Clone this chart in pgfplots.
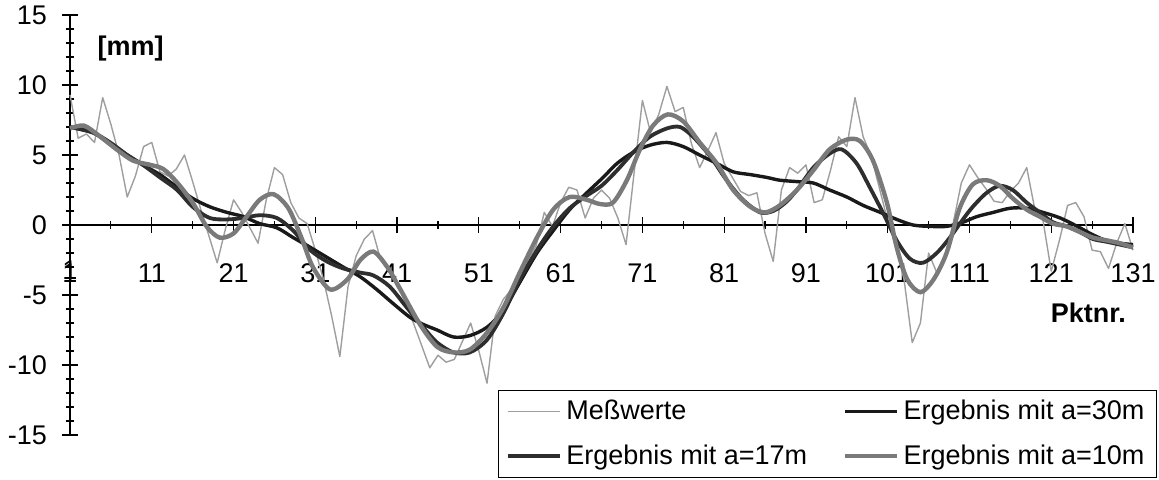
\documentclass[border=0pt]{standalone}
\usepackage{fontspec}
\setmainfont{Liberation Sans}
\usepackage{pgfplots}
\pgfplotsset{compat=1.18}
\definecolor{meas}{gray}{0.62}
\definecolor{cthirty}{gray}{0.10}
\definecolor{cseventeen}{gray}{0.18}
\definecolor{cten}{gray}{0.48}
\begin{document}
\begin{tikzpicture}
\path[use as bounding box] (-35pt,-22pt) rectangle (544.5pt,217.5pt);
\begin{axis}[
  at={(0pt,0pt)}, anchor=south west,
  scale only axis, width=531.5pt, height=210pt,
  xmin=1, xmax=131, ymin=-15, ymax=15,
  axis x line=middle, axis y line=left,
  hide obscured x ticks=false,
  axis line style={-, black, line width=0.6pt},
  xtick={1,11,...,131}, minor x tick num=1,
  ytick={-15,-10,...,15}, minor y tick num=4,
  tick align=center,
  major tick length=8pt, minor tick length=4pt,
  tick style={black, line width=0.6pt},
  /pgf/number format/assume math mode=true,
  ticklabel style={font=\fontsize{13.5}{15}\selectfont},
  xticklabel style={anchor=north, yshift=-12pt},
  yticklabel style={anchor=east, xshift=-4pt},
  clip=false,
  legend columns=2,
  legend cell align=left,
  legend image code/.code={\draw[#1] (0pt,0pt) -- (26pt,0pt);},
  legend style={at={(axis description cs:1.0226,-0.102)}, anchor=south east,
    draw=black, line width=0.6pt, font=\fontsize{13.5}{15}\selectfont,
    inner xsep=4pt, inner ysep=3pt, row sep=7pt,
    /tikz/every even column/.append style={column sep=16pt}},
]
\addplot[meas, line width=0.7pt, line join=round] coordinates {
(1,9.3)(2,6.2)(3,6.5)(4,5.9)(5,9.1)(6,7.2)(7,5.0)(8,2.0)(9,3.5)(10,5.6)
(11,5.9)(12,3.8)(13,3.5)(14,4.0)(15,5.0)(16,3.1)(17,1.1)(18,-0.8)(19,-2.7)(20,-0.3)
(21,1.8)(22,0.9)(23,-0.2)(24,-1.3)(25,1.8)(26,4.1)(27,3.6)(28,1.6)(29,0.5)(30,0.1)
(31,-1.8)(32,-3.9)(33,-6.5)(34,-9.4)(35,-4.4)(36,-2.2)(37,-1.0)(38,-0.4)(39,-2.5)(40,-3.2)
(41,-4.2)(42,-5.5)(43,-7.0)(44,-8.6)(45,-10.2)(46,-9.3)(47,-9.8)(48,-9.6)(49,-8.3)(50,-7.0)
(51,-9.0)(52,-11.3)(53,-6.5)(54,-5.3)(55,-4.6)(56,-3.6)(57,-2.5)(58,-1.5)(59,0.9)(60,-0.1)
(61,1.6)(62,2.7)(63,2.5)(64,0.5)(65,1.9)(66,2.5)(67,1.9)(68,0.5)(69,-1.4)(70,3.8)
(71,8.9)(72,6.6)(73,7.9)(74,9.9)(75,8.1)(76,8.4)(77,5.8)(78,4.1)(79,5.3)(80,6.6)
(81,4.4)(82,3.4)(83,2.4)(84,2.1)(85,2.3)(86,-0.6)(87,-2.6)(88,2.5)(89,4.1)(90,3.7)
(91,4.3)(92,1.6)(93,1.8)(94,3.9)(95,6.3)(96,5.6)(97,9.1)(98,6.3)(99,4.9)(100,2.6)
(101,0.3)(102,-1.6)(103,-3.9)(104,-8.4)(105,-7.0)(106,-2.0)(107,-3.4)(108,-2.2)(109,0.1)(110,3.0)
(111,4.3)(112,3.4)(113,2.6)(114,1.7)(115,1.6)(116,2.4)(117,3.0)(118,4.1)(119,1.1)(120,0.3)
(121,-3.3)(122,-1.1)(123,1.4)(124,1.6)(125,0.6)(126,-1.8)(127,-1.9)(128,-3.1)(129,-1.3)(130,0.1)
(131,-1.8)};
\addlegendentry{Meßwerte}
\addplot[cthirty, line width=1.7pt, smooth] coordinates {
(1,7.0)(3.8,6.6)(5.9,5.8)(8,5.0)(9.9,4.3)(12,3.6)(14.1,2.7)(16,1.9)(18.1,1.3)(20.2,0.9)
(22.2,0.6)(24.2,0.1)(26.3,-0.2)(28.3,-0.9)(30.4,-1.6)(32.4,-2.3)(34.4,-3.0)(36.5,-3.7)(38.5,-4.6)(40.5,-5.6)
(42.6,-6.6)(44.2,-7.1)(45.9,-7.5)(47.9,-8.0)(49.9,-7.9)(52,-7.3)(54,-6.1)(56,-4.1)(58.1,-2.0)(60.1,-0.4)
(62.1,1.1)(64.2,2.3)(66.2,3.4)(67.9,4.4)(69.9,5.2)(71.9,5.7)(74,5.9)(76,5.6)(78,5.0)(80.1,4.4)
(82.1,3.8)(84.2,3.6)(86.2,3.4)(87.8,3.2)(89.9,3.1)(91.9,3.0)(93.9,2.5)(96,2.0)(98,1.4)(100.1,0.9)
(102.1,0.4)(104.1,0.0)(106.2,-0.1)(108.2,-0.1)(110.2,0.2)(111.9,0.6)(113.9,0.9)(116,1.2)(118,1.2)(120,0.9)
(122.1,0.5)(124.2,-0.1)(126.1,-0.7)(128.2,-1.2)(131,-1.4)};
\addlegendentry{Ergebnis mit a=30m}
\addplot[cseventeen, line width=1.9pt, smooth] coordinates {
(1,7.0)(3.8,6.6)(5.9,5.9)(8,5.0)(9.9,4.3)(12,3.4)(14.1,2.5)(16,1.3)(18.1,0.5)(20.2,0.4)
(22.2,0.5)(24.2,0.7)(26.3,0.5)(28.3,-0.4)(30.4,-1.8)(32.4,-2.6)(34.4,-3.1)(36.5,-3.4)(38.1,-3.6)(40.1,-4.4)
(42.2,-5.9)(44.2,-7.3)(45.9,-8.4)(47.9,-9.1)(49.9,-9.1)(52,-8.2)(54,-6.3)(56,-3.9)(58.1,-1.8)(60.1,-0.1)
(62.1,1.2)(64.2,2.1)(66,2.8)(67.9,3.9)(69.9,5.2)(71.9,6.3)(74,6.9)(75.6,7.0)(77.2,6.3)(79.3,4.9)
(81.3,3.2)(83.3,1.8)(85.4,0.9)(87,1.0)(88.5,1.6)(89.9,2.5)(91.9,4.1)(93.9,5.1)(95.4,5.4)(97.2,4.4)
(98.8,2.7)(100.4,0.9)(102.1,-1.1)(103.7,-2.4)(105.3,-2.7)(107,-2.0)(108.6,-0.9)(110.2,0.4)(111.4,1.3)(113.1,2.3)
(114.7,2.8)(116.3,2.5)(118,1.6)(119.6,0.9)(121.2,0.2)(122.9,-0.1)(124.5,-0.5)(126.1,-1.0)(127.8,-1.2)(129.4,-1.4)
(131,-1.6)};
\addlegendentry{Ergebnis mit a=17m}
\addplot[cten, line width=2.2pt, smooth] coordinates {
(1,6.9)(2.7,7.1)(4.5,6.4)(6.7,5.4)(8.7,4.6)(10.8,4.3)(12.4,4.0)(14,3.1)(16,1.6)(17.7,-0.1)
(19.3,-0.9)(21,-0.6)(22.6,0.6)(24.2,1.8)(25.9,2.2)(27.7,1.2)(29.3,-0.9)(30.7,-3.0)(32.8,-4.6)(34.9,-3.9)
(36.5,-2.5)(38.1,-1.9)(39.8,-3.0)(41.4,-4.6)(43.8,-7.1)(45.9,-8.7)(47.9,-9.1)(49.9,-8.9)(52,-7.7)(54,-5.9)
(56,-3.4)(58.1,-0.9)(60.1,1.1)(62.1,2.0)(64.2,1.8)(65.8,1.5)(67.4,1.6)(69.1,3.2)(70.7,5.4)(72.3,7.1)
(74.1,7.9)(76,7.4)(78,5.9)(80.1,4.4)(82.1,2.5)(84.2,1.3)(86,0.9)(87.8,1.4)(89.9,2.5)(91.9,3.9)
(93.9,5.4)(96,6.1)(97.6,6.0)(99.2,4.6)(100.9,1.6)(102.1,-1.6)(103.4,-3.9)(105,-4.8)(106.6,-3.9)(108.2,-2.0)
(109.8,1.2)(111.4,2.9)(113.1,3.2)(114.7,2.8)(116.3,1.9)(118,1.1)(119.6,0.6)(121.2,0.1)(122.9,-0.1)(124.5,-0.5)
(126.1,-0.9)(127.8,-1.1)(129.4,-1.3)(131,-1.6)};
\addlegendentry{Ergebnis mit a=10m}
\node[font=\fontsize{13.5}{15}\selectfont, anchor=north, yshift=-14.5pt] at (axis cs:1,0) {1};
\node[font=\bfseries\fontsize{13.5}{15}\selectfont] at (axis description cs:0.057,0.921) {[mm]};
\node[font=\bfseries\fontsize{13.5}{15}\selectfont, anchor=east] at (axis description cs:1,0.29) {Pktnr.};
\end{axis}
\end{tikzpicture}
\end{document}
